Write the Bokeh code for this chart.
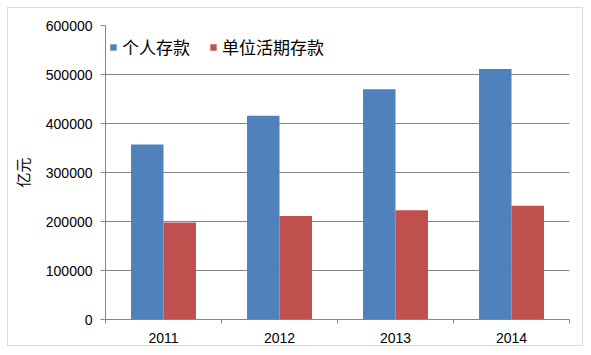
from bokeh.plotting import figure
from bokeh.models import (Range1d, FixedTicker, Legend, LegendItem, InlineStyleSheet,
                          ColumnDataSource, BasicTickFormatter)
from bokeh.transform import dodge
from bokeh.embed import file_html
from bokeh.resources import INLINE

# ---- data ----
years = ["2011", "2012", "2013", "2014"]
personal = [357000, 416000, 470000, 511000]
corporate = [198000, 211000, 223000, 232000]
series_names = ["个人存款", "单位活期存款"]
y_ticks = [0, 100000, 200000, 300000, 400000, 500000, 600000]
y_label = "亿元"

BLUE = "#4F81BD"
RED = "#C0504D"
GRAY = "#868686"
CJK = "Noto Sans CJK SC"
NUM = "Liberation Sans"

idx = list(range(len(years)))
src = ColumnDataSource(dict(x=idx, personal=personal, corporate=corporate))

p = figure(width=591, height=355, output_backend="svg", toolbar_location=None,
           x_range=Range1d(-0.5, len(years) - 0.5),
           y_range=Range1d(y_ticks[0], y_ticks[-1]),
           min_border_left=105, min_border_right=22, min_border_top=25, min_border_bottom=36)
p.outline_line_color = None
p.background_fill_color = "white"
p.border_fill_color = None
# light grey chart-area border, drawn by the page behind the transparent canvas border
p.stylesheets = [InlineStyleSheet(css=(
    ":host { background: #fff; box-shadow: "
    "inset 0 0 0 7px #fff, inset -8px -9px 0 0 #fff, "
    "inset 0 0 0 8px #D9D9D9, inset -9px -10px 0 0 #D9D9D9; }"))]

bw = 0.28
r1 = p.vbar(x=dodge("x", -bw / 2), top="personal", width=bw, source=src,
            fill_color=BLUE, line_color=None)
r2 = p.vbar(x=dodge("x", bw / 2), top="corporate", width=bw, source=src,
            fill_color=RED, line_color=None)

# x axis
xa = p.xaxis[0]
xa.ticker = FixedTicker(ticks=idx, minor_ticks=[i - 0.5 for i in range(len(years) + 1)])
xa.major_label_overrides = {i: y for i, y in enumerate(years)}
xa.major_tick_out = 0
xa.major_tick_in = 0
xa.minor_tick_out = 4
xa.minor_tick_in = 0
xa.minor_tick_line_color = GRAY
xa.axis_line_color = GRAY
xa.major_label_text_font = NUM
xa.major_label_text_font_size = "14px"
xa.major_label_text_color = "black"
xa.major_label_standoff = 9

# y axis
ya = p.yaxis[0]
ya.ticker = FixedTicker(ticks=y_ticks, minor_ticks=[])
ya.formatter = BasicTickFormatter(use_scientific=False)
ya.major_tick_out = 5
ya.major_tick_in = 0
ya.major_tick_line_color = GRAY
ya.axis_line_color = GRAY
ya.major_label_text_font = NUM
ya.major_label_text_font_size = "14px"
ya.major_label_text_color = "black"
ya.major_label_standoff = 8
ya.axis_label = y_label
ya.axis_label_text_font = CJK
ya.axis_label_text_font_size = "15px"
ya.axis_label_text_font_style = "normal"
ya.axis_label_text_color = "black"
ya.axis_label_standoff = 10

p.xgrid.visible = False
p.ygrid.ticker = FixedTicker(ticks=y_ticks)
p.ygrid.grid_line_color = GRAY
p.ygrid.grid_line_width = 1

legend = Legend(items=[LegendItem(label=series_names[0], renderers=[r1]),
                       LegendItem(label=series_names[1], renderers=[r2])],
                orientation="horizontal", location=(4, 260),
                glyph_width=8, glyph_height=8, label_height=16,
                label_standoff=5, spacing=19, padding=4, margin=0,
                label_text_font=CJK, label_text_font_size="17px", label_text_color="black",
                background_fill_color="white", background_fill_alpha=1.0,
                border_line_color=None)
p.add_layout(legend)

open("out.html", "w").write(file_html(p, INLINE))
